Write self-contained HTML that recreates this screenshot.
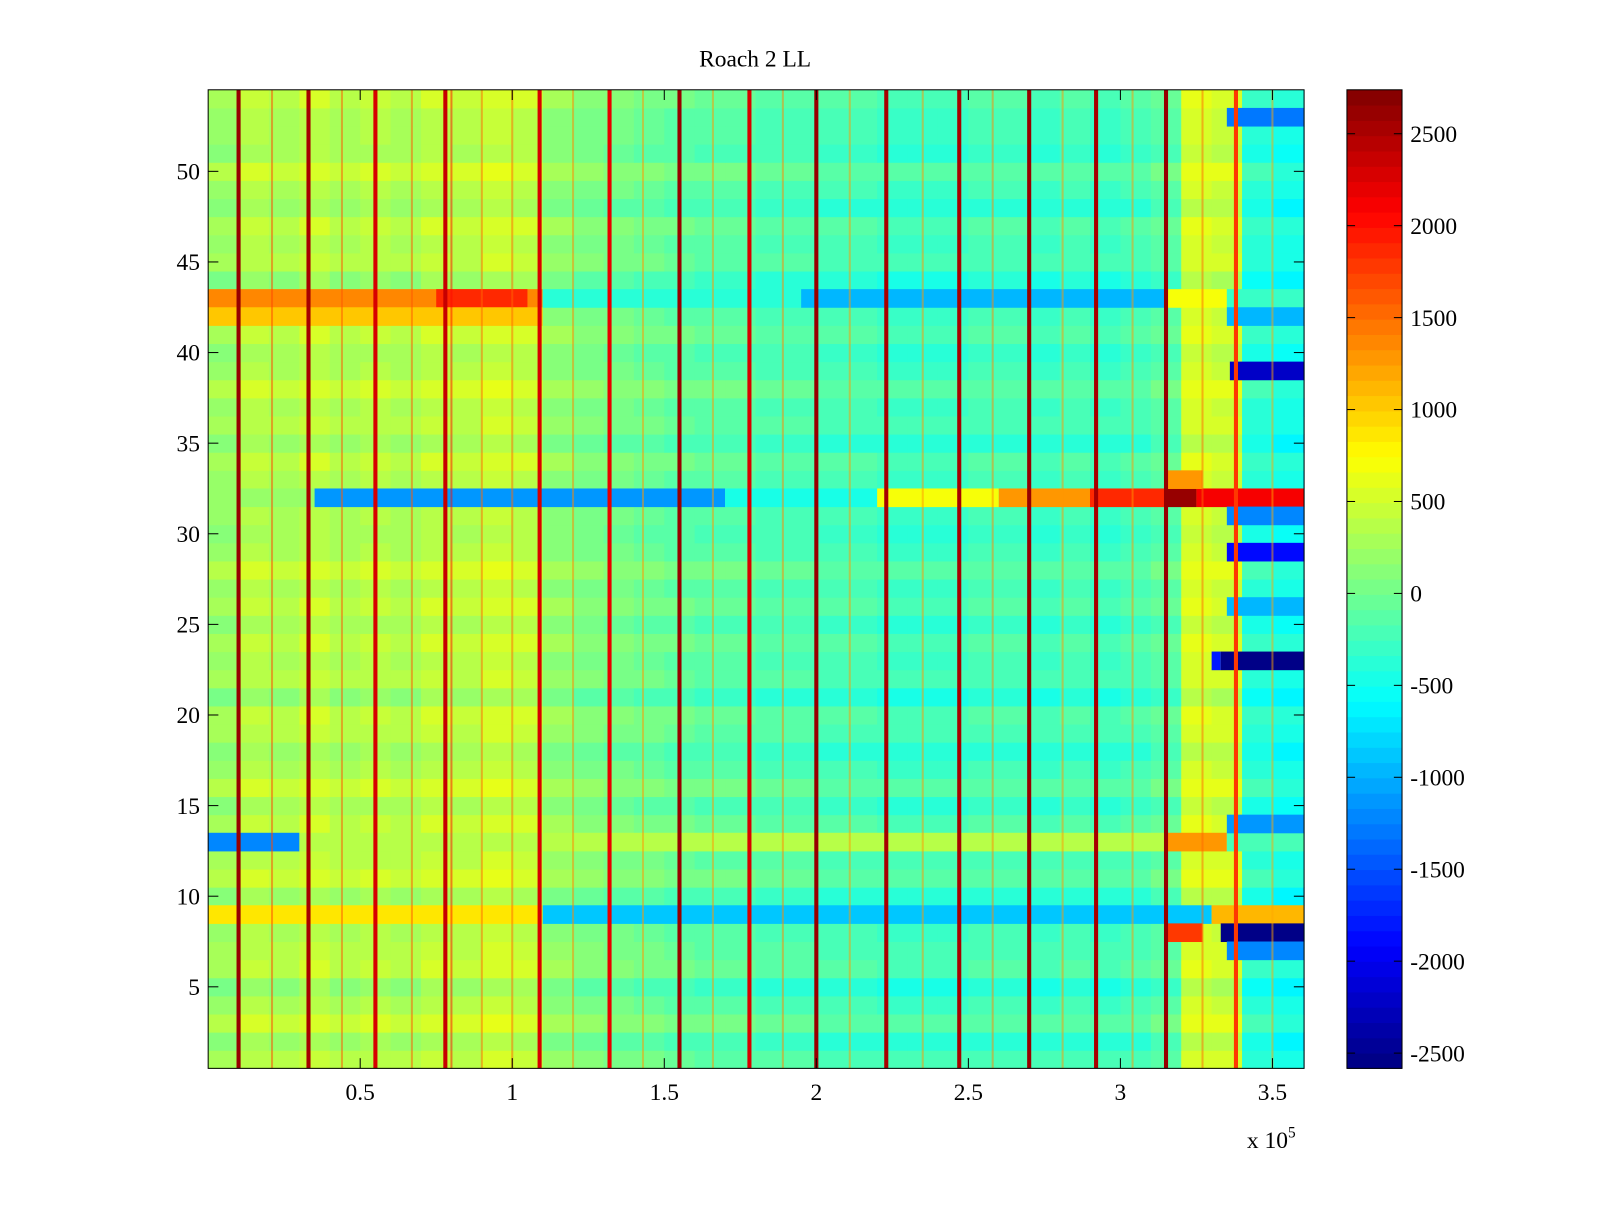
<!DOCTYPE html>
<html><head><meta charset="utf-8"><style>
body{margin:0;background:#fff}
svg text{font-family:"Liberation Serif",serif;font-size:23px;fill:#000}
</style></head><body>
<svg id="chart" width="1600" height="1200" xmlns="http://www.w3.org/2000/svg">
<rect width="1600" height="1200" fill="#fff"/>
<g transform="scale(1.0204)">
<g id="cells"></g>
<g id="vlines"></g>
<g id="cbar"></g>
<g id="axes"></g>
<text x="740" y="65" text-anchor="middle">Roach 2 LL</text>
<text x="1222" y="1125">x 10<tspan dy="-10" font-size="15">5</tspan></text>
</g>
</svg>
<script>
const colSegBase=[200,350,300,400,300,350,300,400,350,450,400,150,50,0,-50,-100,-150,-150,-200,-200,-250,-250,-300,-300,-300,-250,-250,-300,-250,-300,-250,-150,500,450,-400,-500,-600];
const rowOffset=[50,-100,150,0,-150,100,50,0,0,-100,150,50,0,100,-50,150,0,-100,50,100,-150,50,0,100,-50,100,0,150,0,-50,0,0,0,100,-100,50,0,150,0,-50,100,0,0,-150,50,0,100,-100,0,150,-50,0,0,100];
const overrides=[[43,0,1.1,1400],[43,0.75,1.05,1900],[43,1.1,1.95,-400],[43,1.95,3.15,-1000],[43,3.15,3.35,700],[43,3.35,3.61,-300],
[42,0,1.1,1000],[42,3.35,3.61,-1000],
[32,0,0.35,200],[32,0.35,1.7,-1100],[32,1.7,2.2,-500],[32,2.2,2.6,700],[32,2.6,2.9,1300],[32,2.9,3.15,1900],[32,3.15,3.25,2600],[32,3.25,3.61,2100],
[33,3.15,3.27,1300],
[13,0,0.3,-1200],[13,0.3,3.15,400],[13,3.15,3.35,1300],[13,3.35,3.61,-200],
[9,0,1.1,900],[9,1.1,3.3,-900],[9,3.3,3.61,1100],
[8,3.15,3.27,1800],[8,3.33,3.61,-2500],
[23,3.3,3.33,-1800],[23,3.33,3.61,-2500],
[39,3.36,3.61,-2200],[29,3.35,3.61,-1900],[53,3.35,3.61,-1300],
[26,3.35,3.61,-1000],[7,3.35,3.61,-1200],[31,3.35,3.61,-1200],[14,3.35,3.61,-1100]];
const vLinePos=[0.10,0.33,0.55,0.78,1.09,1.32,1.55,1.78,2.00,2.23,2.47,2.70,2.92,3.15,3.38];
const vLineVal=[2600,2500,2300,2400,2300,2200,2600,2300,2600,2500,2500,2600,2500,2600,1800];
const thinLinePos=[0.21,0.44,0.67,0.80,0.90,1.00,1.20,1.43,1.66,1.89,2.11,2.35,2.58,2.81,3.04,3.27,3.50];
const thinLineVal=[1700,1600,1600,2000,1500,1500,1400,1300,1300,1400,1300,1300,1400,1300,1300,1500,1200];
const xTicks=[0.5,1,1.5,2,2.5,3,3.5];
const yTicks=[5,10,15,20,25,30,35,40,45,50];
const cTicks=[-2500,-2000,-1500,-1000,-500,0,500,1000,1500,2000,2500];
const NS="http://www.w3.org/2000/svg";
const X0=204,X1=1278,Y0=88,Y1=1047,XMAX=3.604,CMIN=-2583,CMAX=2739;
const sx=v=>X0+v/XMAX*(X1-X0);
const sy=v=>Y1-(v-0.5)/54*(Y1-Y0);
function jet(v){let t=(v-CMIN)/(CMAX-CMIN);t=Math.max(0,Math.min(1,t));t=(Math.floor(t*63.999)+0.5)/64;
const c=x=>Math.round(255*Math.max(0,Math.min(1,x)));
return `rgb(${c(1.5-Math.abs(4*t-3))},${c(1.5-Math.abs(4*t-2))},${c(1.5-Math.abs(4*t-1))})`;}
function mk(tag,attrs,parent){const e=document.createElementNS(NS,tag);for(const k in attrs)e.setAttribute(k,attrs[k]);parent.appendChild(e);return e;}
const cells=document.getElementById('cells');
for(let r=1;r<=54;r++){for(let s=0;s<colSegBase.length;s++){
 const a=s*0.1,b=Math.min((s+1)*0.1,XMAX);if(a>=XMAX)continue;
 let v=colSegBase[s]+rowOffset[r-1];
 const e=mk('rect',{x:sx(a),y:sy(r+0.5),width:sx(b)-sx(a)+0.5,height:sy(r-0.5)-sy(r+0.5)+0.5,fill:jet(v)},cells);
 
 }}
for(const o of overrides){const [r,a,b,v]=o;
 const e=mk('rect',{x:sx(a),y:sy(r+0.5),width:sx(Math.min(b,XMAX))-sx(a),height:sy(r-0.5)-sy(r+0.5)+0.5,fill:jet(v)},cells);
 
 }
const vl=document.getElementById('vlines');
thinLinePos.forEach((p,i)=>{const e=mk('rect',{x:sx(p)-1,y:Y0,width:2,height:Y1-Y0,fill:jet(thinLineVal[i]),opacity:0.5},vl);
 
 });
vLinePos.forEach((p,i)=>{const e=mk('rect',{x:sx(p)-2,y:Y0,width:4,height:Y1-Y0,fill:jet(vLineVal[i])},vl);
 
 });
const cb=document.getElementById('cbar');const CX0=1320,CX1=1374;
for(let i=0;i<64;i++){const v=CMIN+(i+0.5)/64*(CMAX-CMIN);const h=(Y1-Y0)/64;
 const e=mk('rect',{x:CX0,y:Y1-(i+1)*h,width:CX1-CX0,height:h+0.5,fill:jet(v)},cb);
 
 }
mk('rect',{x:CX0,y:Y0,width:CX1-CX0,height:Y1-Y0,fill:'none',stroke:'#000','stroke-width':1},cb);
const cy=v=>Y1-(v-CMIN)/(CMAX-CMIN)*(Y1-Y0);
cTicks.forEach(t=>{mk('line',{x1:CX1-8,x2:CX1,y1:cy(t),y2:cy(t),stroke:'#000'},cb);mk('line',{x1:CX0,x2:CX0+8,y1:cy(t),y2:cy(t),stroke:'#000'},cb);
 const e=mk('text',{x:1382,y:cy(t)+8},cb);e.textContent=t;
 
 });
const ax=document.getElementById('axes');
mk('rect',{x:X0,y:Y0,width:X1-X0,height:Y1-Y0,fill:'none',stroke:'#000','stroke-width':1},ax);
xTicks.forEach(t=>{const x=sx(t);mk('line',{x1:x,x2:x,y1:Y1,y2:Y1-10,stroke:'#000'},ax);mk('line',{x1:x,x2:x,y1:Y0,y2:Y0+10,stroke:'#000'},ax);
 const e=mk('text',{x:x,y:1078,'text-anchor':'middle'},ax);e.textContent=t;
 
 });
yTicks.forEach(t=>{const y=sy(t);mk('line',{x1:X0,x2:X0+10,y1:y,y2:y,stroke:'#000'},ax);mk('line',{x1:X1,x2:X1-10,y1:y,y2:y,stroke:'#000'},ax);
 const e=mk('text',{x:196,y:y+8,'text-anchor':'end'},ax);e.textContent=t;
 
 });
</script>
</body></html>
